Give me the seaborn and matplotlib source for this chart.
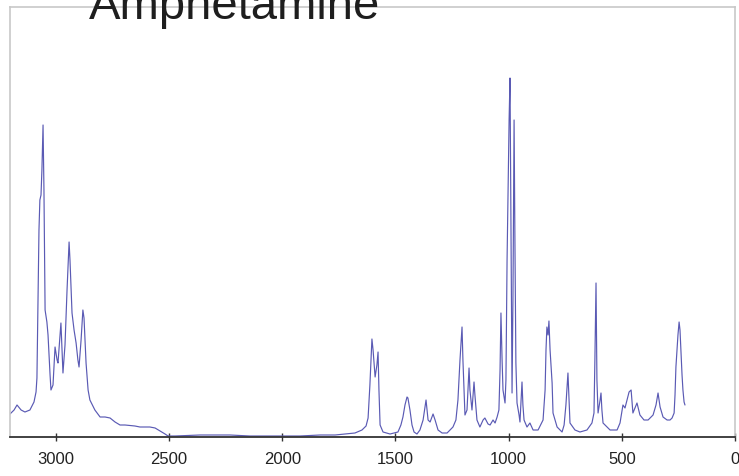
import matplotlib
matplotlib.use("Agg")
import matplotlib.pyplot as plt
import seaborn as sns
import pandas as pd

# Raman shift (cm-1) and intensity (arbitrary units)
wavenumber = [
    3203, 3185, 3172, 3154, 3137, 3115, 3097, 3088, 3084, 3079, 3075, 3071, 3066, 3062, 3057,
    3053, 3048, 3040, 3035, 3026, 3022, 3013, 3004, 2995, 2991, 2978, 2973, 2969, 2960, 2951,
    2942, 2938, 2929, 2920, 2911, 2903, 2898, 2889, 2881, 2876, 2867, 2858, 2850, 2828, 2805,
    2783, 2761, 2739, 2717, 2695, 2651, 2629, 2585, 2562, 2540, 2518, 2505, 2474, 2364, 2297,
    2231, 2143, 2076, 2010, 1922, 1833, 1767, 1723, 1679, 1648, 1630, 1621, 1613, 1604, 1599,
    1590, 1582, 1577, 1573, 1568, 1555, 1524, 1489, 1476, 1467, 1458, 1449, 1445, 1436, 1427,
    1418, 1405, 1392, 1378, 1365, 1356, 1347, 1334, 1325, 1312, 1294, 1272, 1259, 1246, 1233,
    1224, 1215, 1206, 1202, 1193, 1184, 1175, 1171, 1162, 1153, 1149, 1140, 1127, 1113, 1105,
    1091, 1082, 1069, 1060, 1051, 1043, 1038, 1034, 1029, 1025, 1016, 1012, 1007, 1003, 998,
    994, 990, 985, 981, 976, 972, 968, 963, 954, 950, 945, 941, 937, 932, 919,
    906, 892, 870, 848, 839, 835, 831, 826, 822, 817, 808, 804, 786, 764, 755,
    747, 738, 733, 729, 707, 685, 654, 632, 623, 619, 614, 610, 605, 596, 592,
    588, 583, 552, 521, 508, 495, 486, 477, 468, 459, 451, 442, 433, 420, 402,
    384, 362, 349, 340, 331, 318, 300, 287, 278, 269, 265, 261, 252, 247, 243,
    239, 234, 230, 225, 221,
]
intensity = [
    23, 27, 32, 27, 25, 27, 35, 45, 59, 137, 207, 237, 242, 267, 312,
    247, 127, 115, 102, 62, 47, 52, 90, 77, 74, 114, 87, 64, 92, 147,
    195, 177, 124, 107, 94, 77, 70, 97, 127, 119, 74, 47, 37, 27, 20,
    20, 19, 15, 12, 12, 11, 10, 10, 9, 6, 3, 1, 1, 2, 2,
    2, 1, 1, 1, 1, 2, 2, 3, 4, 7, 11, 19, 52, 98, 87,
    60, 72, 85, 47, 12, 5, 3, 5, 12, 20, 32, 40, 39, 27, 12,
    5, 3, 7, 17, 37, 17, 15, 23, 17, 7, 4, 4, 7, 10, 17,
    37, 77, 110, 77, 22, 27, 69, 47, 27, 55, 42, 17, 10, 17, 19,
    13, 12, 17, 14, 20, 27, 67, 124, 77, 47, 34, 57, 177, 237, 317,
    359, 217, 44, 137, 317, 187, 74, 34, 22, 15, 37, 55, 32, 17, 10,
    14, 7, 7, 17, 47, 87, 110, 102, 116, 87, 54, 24, 10, 5, 12,
    32, 64, 37, 14, 7, 5, 7, 14, 24, 77, 154, 57, 24, 37, 44,
    27, 14, 7, 7, 14, 32, 29, 37, 45, 47, 24, 29, 34, 22, 17,
    17, 22, 32, 44, 30, 20, 17, 17, 19, 24, 42, 70, 102, 115, 107,
    87, 62, 47, 35, 32,
]
tick_values = [3000, 2500, 2000, 1500, 1000, 500, 0]
title_text = "Amphetamine"

df = pd.DataFrame({"wavenumber": wavenumber, "intensity": intensity})

sns.set_style("white")
plt.rcParams["font.family"] = ["Liberation Sans", "DejaVu Sans"]

fig = plt.figure(figsize=(7.39, 4.76), dpi=100)
ax = fig.add_axes([10 / 739, 39 / 476, 725 / 739, 430 / 476])

sns.lineplot(data=df, x="wavenumber", y="intensity", ax=ax, color="#5a5ab4",
             linewidth=0.85, estimator=None, sort=False)

ax.set_xlim(3203, 0)
ax.set_ylim(0, 430)
ax.set_xticks(tick_values)
ax.set_xticklabels([str(v) for v in tick_values], fontsize=12, color="#222222")
ax.set_yticks([])
ax.set_xlabel("")
ax.set_ylabel("")
ax.tick_params(axis="x", direction="inout", length=6, width=1, color="#333333", pad=8,
               bottom=True)

for side in ["left", "top", "right"]:
    ax.spines[side].set_color("#c8c8c8")
    ax.spines[side].set_linewidth(1.2)
ax.spines["bottom"].set_color("#333333")
ax.spines["bottom"].set_linewidth(1.3)

fig.text(235 / 739, 1 - 19 / 476, title_text, fontsize=34, ha="center",
         va="baseline", color="#1e1e1e", zorder=10)

fig.savefig("out.png", dpi=100)
